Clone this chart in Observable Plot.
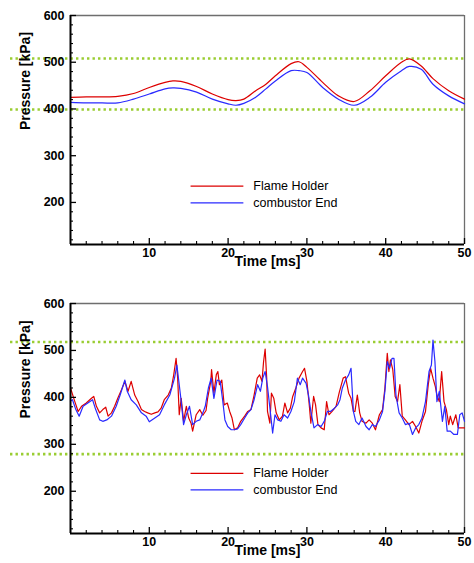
<!DOCTYPE html>
<html>
<head>
<meta charset="utf-8">
<script src="https://cdn.jsdelivr.net/npm/d3@7"></script>
<script src="https://cdn.jsdelivr.net/npm/@observablehq/plot@0.6"></script>
<style>
  html, body { margin: 0; padding: 0; background: #fff; }
  #chart svg { display: block; }
</style>
</head>
<body>
<div id="chart"></div>
<script>
// ---------- data ----------
const seriesNames = ["Flame Holder", "combustor End"];
const seriesColors = ["#dd0000", "#2a2aff"];

const xTicks = [10, 20, 30, 40, 50];
const xMinor = [2, 4, 6, 8, 12, 14, 16, 18, 22, 24, 26, 28, 32, 34, 36, 38, 42, 44, 46, 48];
const yTicks = [200, 300, 400, 500, 600];
const yMinor = [120, 140, 160, 180, 220, 240, 260, 280, 320, 340, 360, 380, 420, 440, 460, 480, 520, 540, 560, 580];

// top panel (smooth oscillation)
const topTime = [0, 2, 4, 6, 8, 10, 12, 13, 14, 16, 18, 20, 21, 22, 23.5, 24.8, 26, 28, 29, 30, 32, 34, 36, 38, 40, 42, 43, 44.5, 46, 48, 50];
const topFlameHolder = [425, 426, 426, 427, 433, 446, 457, 460, 459, 448, 432, 420, 418, 421, 439, 453, 471, 497, 501, 489, 457, 428, 416, 439, 471, 500, 507, 492, 465, 439, 421];
const topCombustorEnd = [414, 413, 413, 413, 421, 432, 443, 445, 444, 436, 421, 411, 408, 412, 425, 443, 460, 482, 482, 478, 446, 421, 408, 425, 457, 482, 491, 485, 453, 428, 411];
const topLimits = [508, 399];

// bottom panel (noisy oscillation)
const botFhTime = [0, 0.55, 0.97, 1.4, 2.0, 2.66, 2.95, 3.29, 3.7, 4.1, 4.47, 4.77, 5.2, 5.6, 6.0, 6.46, 6.9, 7.3, 7.7, 8.15, 8.57, 9.0, 9.4, 9.8, 10.25, 10.7, 11.1, 11.5, 11.9, 12.4, 12.8, 13.1, 13.4, 13.6, 13.8, 14.05, 14.35, 14.7, 15.0, 15.3, 15.5, 15.95, 16.4, 16.8, 17.2, 17.4, 17.8, 17.9, 18.2, 18.5, 18.7, 18.9, 19.2, 19.5, 19.9, 20.2, 20.5, 20.8, 21.2, 21.6, 22.1, 22.5, 22.9, 23.3, 23.7, 24.0, 24.3, 24.5, 24.7, 24.9, 25.0, 25.3, 25.5, 25.8, 26.1, 26.5, 26.9, 27.2, 27.55, 27.9, 28.2, 28.6, 29.0, 29.45, 29.7, 30.0, 30.3, 30.5, 30.85, 31.1, 31.4, 31.8, 32.2, 32.5, 32.8, 33.2, 33.7, 34.1, 34.6, 34.9, 35.3, 35.6, 35.9, 36.1, 36.4, 36.7, 37.0, 37.5, 37.9, 38.3, 38.7, 39.2, 39.6, 39.9, 40.2, 40.4, 40.6, 40.9, 41.2, 41.5, 41.8, 42.1, 42.5, 42.95, 43.4, 43.8, 44.2, 44.6, 45.05, 45.4, 45.7, 46.0, 46.3, 46.5, 46.8, 47.1, 47.4, 47.7, 48.0, 48.2, 48.5, 48.9, 49.2, 49.5, 50];
const botFhP = [420, 391, 370, 381, 388, 398, 402, 381, 367, 374, 379, 360, 367, 381, 398, 416, 434, 413, 434, 405, 391, 374, 370, 367, 364, 367, 369, 377, 395, 405, 420, 448, 483, 441, 363, 398, 349, 381, 356, 345, 328, 363, 374, 362, 372, 398, 434, 459, 409, 448, 455, 427, 437, 384, 388, 370, 356, 331, 335, 349, 360, 370, 374, 405, 441, 448, 434, 476, 503, 441, 370, 345, 409, 398, 367, 352, 360, 388, 367, 377, 402, 420, 441, 455, 462, 434, 384, 345, 402, 384, 342, 335, 331, 391, 363, 370, 381, 410, 441, 444, 409, 398, 370, 370, 405, 367, 349, 345, 352, 345, 331, 363, 374, 420, 494, 455, 480, 459, 402, 391, 427, 360, 352, 342, 349, 338, 324, 349, 370, 427, 462, 441, 423, 405, 391, 455, 391, 374, 342, 360, 342, 363, 335, 335, 335];
const botCeTime = [0, 0.25, 0.68, 1.1, 1.6, 2.2, 2.8, 3.2, 3.7, 4.1, 4.6, 5.2, 5.8, 6.3, 6.9, 7.2, 7.7, 8.35, 9.0, 9.6, 10.0, 10.7, 11.3, 11.9, 12.6, 13.2, 13.5, 13.8, 14.05, 14.35, 14.7, 15.1, 15.5, 15.95, 16.4, 16.8, 17.1, 17.5, 17.85, 18.2, 18.6, 19.0, 19.3, 19.6, 19.95, 20.4, 20.8, 21.2, 21.6, 22.1, 22.5, 22.9, 23.3, 23.75, 24.1, 24.4, 24.7, 25.0, 25.4, 25.65, 25.95, 26.3, 26.7, 27.1, 27.55, 27.97, 28.4, 28.8, 29.15, 29.45, 29.9, 30.2, 30.5, 30.9, 31.35, 31.8, 32.2, 32.6, 33.0, 33.5, 33.9, 34.2, 34.5, 34.9, 35.3, 35.6, 35.9, 36.2, 36.6, 37.0, 37.5, 37.9, 38.3, 38.7, 39.2, 39.6, 39.9, 40.2, 40.5, 40.8, 41.05, 41.3, 41.7, 42.1, 42.5, 42.95, 43.4, 43.8, 44.2, 44.6, 45.05, 45.5, 45.8, 46.0, 46.25, 46.5, 46.8, 47.2, 47.5, 47.8, 48.2, 48.65, 49.1, 49.4, 49.7, 50];
const botCeP = [392, 395, 374, 360, 381, 388, 395, 374, 352, 349, 352, 360, 381, 405, 437, 413, 395, 384, 367, 360, 348, 356, 363, 384, 405, 441, 469, 427, 391, 342, 363, 381, 342, 349, 352, 367, 381, 420, 441, 398, 437, 434, 395, 352, 338, 331, 331, 333, 342, 356, 367, 374, 395, 427, 413, 441, 455, 423, 363, 324, 363, 352, 349, 363, 356, 370, 391, 441, 427, 441, 430, 405, 370, 335, 342, 338, 349, 370, 370, 377, 384, 395, 420, 437, 448, 462, 370, 349, 342, 356, 338, 331, 342, 338, 352, 370, 413, 476, 462, 483, 483, 405, 367, 356, 342, 345, 321, 335, 342, 356, 391, 455, 469, 522, 476, 391, 413, 349, 381, 328, 328, 321, 321, 363, 367, 349];
const botLimits = [518, 279];

const xTitle = "Time [ms]";
const yTitle = "Pressure [kPa]";

// ---------- drawing ----------
const W = 474;
const xDomain = [0, 50];
const yDomain = [110, 600];
const font = "'Liberation Sans', Arial, sans-serif";

function toRows(times, values, name) {
  return times.map((t, i) => ({t, p: values[i], s: name}));
}

function panel({height, marginTop, marginBottom, fh, ce, limits, legendY, curve}) {
  const plotH = height - marginTop - marginBottom;
  const plotW = W - 70 - 10;
  const rows = [...fh, ...ce];
  const legendRows = seriesNames.map((s, i) => ({s, y: legendY[i]}));
  return Plot.plot({
    width: W,
    height,
    marginLeft: 70,
    marginRight: 10,
    marginTop,
    marginBottom,
    style: {fontFamily: font, background: "#fff", overflow: "visible"},
    x: {domain: xDomain, axis: null},
    y: {domain: yDomain, axis: null},
    color: {domain: seriesNames, range: seriesColors},
    marks: [
      Plot.ruleY([yDomain[1]], {stroke: "#6e6e6e", strokeWidth: 1.3}),
      Plot.ruleX([xDomain[1]], {stroke: "#6e6e6e", strokeWidth: 1.3}),
      Plot.ruleY(limits, {stroke: "#9acd32", strokeWidth: 2.6, strokeDasharray: "2.4,3.1", insetLeft: -60}),
      Plot.line(rows, {x: "t", y: "p", z: "s", stroke: "s", strokeWidth: 1.2, curve}),
      Plot.tickX(xTicks, {x: d => d, insetTop: plotH - 6, stroke: "#000", strokeWidth: 1.3}),
      Plot.tickX(xMinor, {x: d => d, insetTop: plotH - 3, stroke: "#000", strokeWidth: 1.1}),
      Plot.tickY(yTicks, {y: d => d, insetRight: plotW - 6, stroke: "#000", strokeWidth: 1.3}),
      Plot.tickY(yMinor, {y: d => d, insetRight: plotW - 3, stroke: "#000", strokeWidth: 1.1}),
      Plot.ruleX([xDomain[0]], {stroke: "#000", strokeWidth: 2}),
      Plot.ruleY([yDomain[0]], {stroke: "#000", strokeWidth: 2}),
      Plot.axisX(xTicks, {tickSize: 0, tickPadding: 4, fontSize: 12.5, fontWeight: "bold", label: null, fill: "#000"}),
      Plot.axisY(yTicks, {tickSize: 0, tickPadding: 6, fontSize: 12.5, fontWeight: "bold", label: null, fill: "#000"}),
      Plot.text([xTitle], {frameAnchor: "bottom", dy: 21, fontSize: 14, fontWeight: "bold", fill: "#000"}),
      Plot.text([yTitle], {frameAnchor: "left", dx: -45, rotate: -90, fontSize: 14, fontWeight: "bold", fill: "#000"}),
      Plot.ruleY(legendRows, {y: "y", x1: 15.3, x2: 22.0, stroke: "s", strokeWidth: 1.2}),
      Plot.text(legendRows, {x: 23.2, y: "y", text: "s", textAnchor: "start", fontSize: 12.5, fill: "#000"})
    ]
  });
}

const topPanel = panel({
  height: 280, marginTop: 15, marginBottom: 36,
  fh: toRows(topTime, topFlameHolder, seriesNames[0]),
  ce: toRows(topTime, topCombustorEnd, seriesNames[1]),
  limits: topLimits, legendY: [235, 199], curve: "catmull-rom"
});
const bottomPanel = panel({
  height: 283, marginTop: 23, marginBottom: 30,
  fh: toRows(botFhTime, botFhP, seriesNames[0]),
  ce: toRows(botCeTime, botCeP, seriesNames[1]),
  limits: botLimits, legendY: [238, 203], curve: "linear"
});
document.getElementById("chart").append(topPanel, bottomPanel);
</script>
</body>
</html>
